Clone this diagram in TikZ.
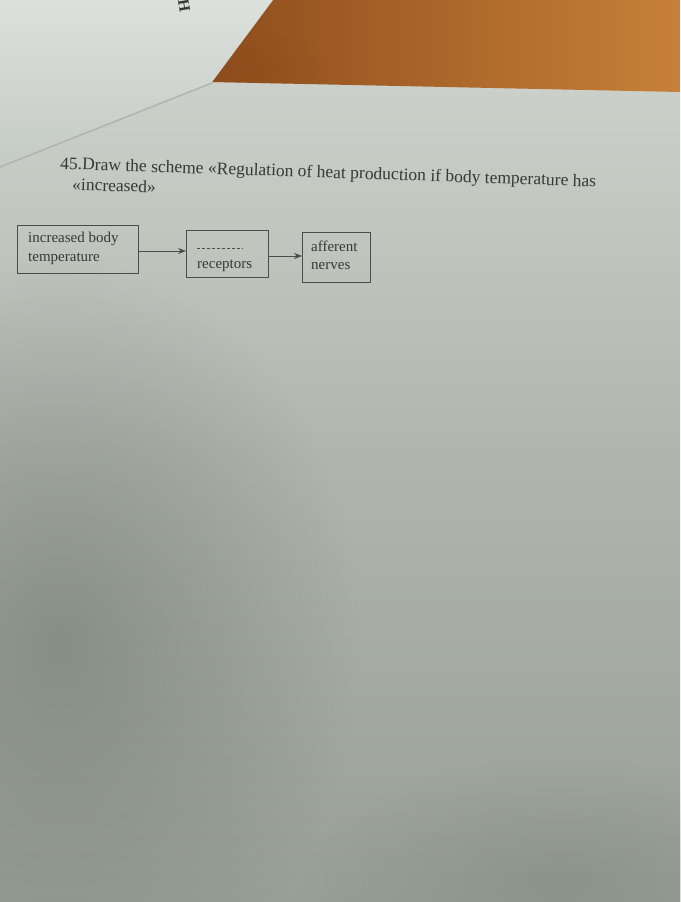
\documentclass[tikz,border=0pt]{standalone}
\usepackage{fontspec}
\setmainfont{Liberation Serif}
\usetikzlibrary{arrows.meta,calc,fadings}
\definecolor{pagetop}{RGB}{210,214,208}
\definecolor{pagemid}{RGB}{176,182,174}
\definecolor{pagelow}{RGB}{152,159,150}
\definecolor{pageshadow}{RGB}{110,118,110}
\definecolor{sheet}{RGB}{220,225,221}
\definecolor{sheetdark}{RGB}{196,202,198}
\definecolor{woodlight}{RGB}{200,128,56}
\definecolor{wooddark}{RGB}{140,76,28}
\definecolor{ink}{RGB}{55,57,55}
\definecolor{boxline}{RGB}{75,77,75}
\tikzfading[name=softblob, inner color=transparent!0, outer color=transparent!100]
\tikzset{
  stepbox/.style={draw=boxline, line width=0.8pt, anchor=north west, inner xsep=0pt, inner ysep=0pt},
  boxtext/.style={text=ink, font=\fontsize{15}{18}\selectfont, align=left, anchor=base west, inner sep=0pt},
  titletext/.style={text=ink, font=\fontsize{17.5}{18}\selectfont, anchor=base west, inner sep=0pt, rotate=-1.9},
  flow/.style={draw=boxline, line width=0.8pt, -{Stealth[length=8pt,width=6pt]}}
}
\begin{document}
\begin{tikzpicture}[x=1pt,y=-1pt]
\useasboundingbox (0,0) rectangle (680,902);
% page
\shade[top color=pagetop, bottom color=pagelow, middle color=pagemid] (0,0) rectangle (680,902);
\fill[pageshadow, opacity=0.55, path fading=softblob] (60,640) ellipse (300pt and 380pt);
\fill[pageshadow, opacity=0.3, path fading=softblob] (560,880) ellipse (260pt and 120pt);
% wooden table
\begin{scope}
\clip (272,0) -- (680,0) -- (680,92) -- (212,82) -- cycle;
\shade[left color=wooddark, right color=woodlight] (200,0) rectangle (680,95);
\fill[wooddark, opacity=0.5, path fading=softblob] (250,70) ellipse (80pt and 40pt);
\end{scope}
% the sheet lying on top
\shade[top color=sheet, bottom color=sheetdark] (0,0) -- (273,0) -- (212,82) -- (0,166) -- cycle;
\draw[pagemid, line width=1.5pt] (212,83) -- (0,167);
\node[rotate=-80, text=ink, font=\bfseries\fontsize{16}{16}\selectfont, inner sep=0pt] (mark) at (184,6) {H};
% title
\node[titletext] (title1) at (60,169)
  {45.Draw the scheme «Regulation of heat production if body temperature has};
\node[titletext] (title2) at (72,190) {«increased»};
% boxes
\node[stepbox, minimum width=121pt, minimum height=48pt] (b1) at (17,225) {};
\node[stepbox, minimum width=82pt, minimum height=47pt] (b2) at (186,230) {};
\node[stepbox, minimum width=68pt, minimum height=50pt] (b3) at (302,232) {};
\node[boxtext] (t1a) at (28,242) {increased body};
\node[boxtext] (t1b) at (28,261) {temperature};
\node[boxtext] (t2) at (197,268) {receptors};
\node[boxtext] (t3a) at (311,251) {afferent};
\node[boxtext] (t3b) at (311,269) {nerves};
\coordinate (d1) at ($(b2.north west)+(11,18)$);
\coordinate (d2) at ($(b2.north west)+(57,18)$);
\draw[boxline, line width=0.6pt, dash pattern=on 3pt off 2pt] (d1) -- (d2);
\draw[flow] (b1.east |- 0,251) -- (b2.west |- 0,251);
\draw[flow] (b2.east |- 0,256) -- (b3.west |- 0,256);
\end{tikzpicture}
\end{document}
